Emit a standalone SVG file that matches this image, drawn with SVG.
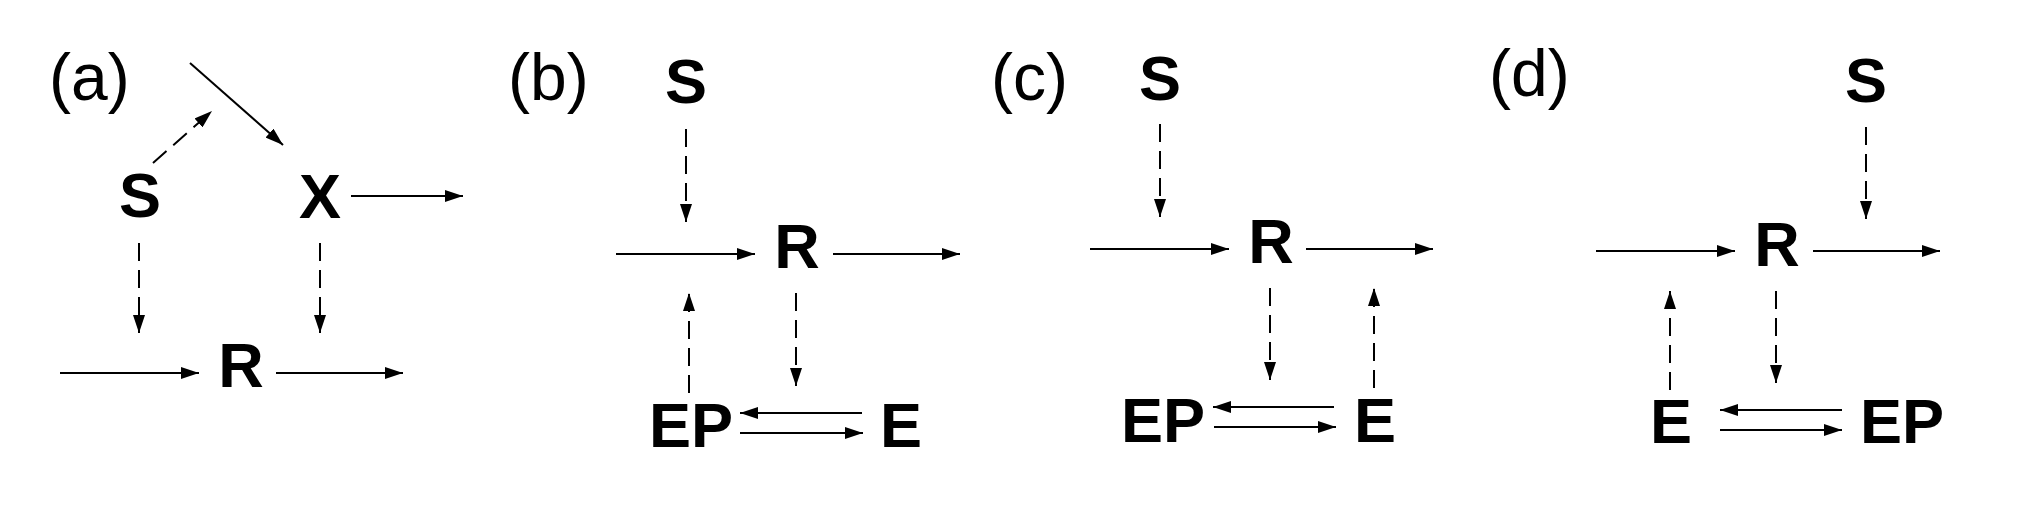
<svg xmlns="http://www.w3.org/2000/svg" width="2026" height="514" viewBox="0 0 2026 514">
<defs>
<marker id="ah" markerUnits="userSpaceOnUse" markerWidth="18" markerHeight="12" refX="18" refY="6" orient="auto">
<path d="M0,0 L18,6 L0,12 z" fill="#000"/>
</marker>
<style>
.lbl{font-family:"Liberation Sans",Arial,sans-serif;font-size:66px;fill:#000}
.nd{font-family:"Liberation Sans",Arial,sans-serif;font-size:63px;font-weight:bold;fill:#000;text-anchor:middle}
.c line{stroke:#000;stroke-width:2;fill:none;marker-end:url(#ah)}
.c line.d{stroke-dasharray:18 9}
</style>
</defs>
<rect width="2026" height="514" fill="#fff"/>
<text class="lbl" x="49" y="100">(a)</text>
<text class="lbl" x="508" y="100">(b)</text>
<text class="lbl" x="991" y="100">(c)</text>
<text class="lbl" x="1489" y="96">(d)</text>
<g id="a-S"><text class="nd" x="140" y="217">S</text></g>
<g id="a-X"><text class="nd" x="320" y="218">X</text></g>
<g id="a-R"><text class="nd" x="241" y="387">R</text></g>
<g id="b-S"><text class="nd" x="686" y="103">S</text></g>
<g id="b-R"><text class="nd" x="797" y="268">R</text></g>
<g id="b-EP"><text class="nd" x="691" y="447">EP</text></g>
<g id="b-E"><text class="nd" x="901" y="447">E</text></g>
<g id="c-S"><text class="nd" x="1160" y="100">S</text></g>
<g id="c-R"><text class="nd" x="1271" y="263">R</text></g>
<g id="c-EP"><text class="nd" x="1163" y="442">EP</text></g>
<g id="c-E"><text class="nd" x="1375" y="442">E</text></g>
<g id="d-S"><text class="nd" x="1866" y="102">S</text></g>
<g id="d-R"><text class="nd" x="1777" y="266">R</text></g>
<g id="d-E"><text class="nd" x="1671" y="443">E</text></g>
<g id="d-EP"><text class="nd" x="1902" y="443">EP</text></g>
<g id="connectors" class="c">
<line x1="190" y1="63" x2="283" y2="145"/>
<line class="d" x1="153" y1="163" x2="212" y2="111"/>
<line x1="351" y1="196" x2="463" y2="196"/>
<line class="d" x1="139" y1="243" x2="139" y2="333"/>
<line class="d" x1="320" y1="243" x2="320" y2="333"/>
<line x1="60" y1="373" x2="199" y2="373"/>
<line x1="276" y1="373" x2="403" y2="373"/>
<line class="d" x1="686" y1="129" x2="686" y2="222"/>
<line x1="616" y1="254" x2="755" y2="254"/>
<line x1="833" y1="254" x2="960" y2="254"/>
<line class="d" x1="689" y1="393" x2="689" y2="293"/>
<line class="d" x1="796" y1="293" x2="796" y2="386"/>
<line x1="862" y1="413" x2="740" y2="413"/>
<line x1="740" y1="433" x2="863" y2="433"/>
<line class="d" x1="1160" y1="124" x2="1160" y2="217"/>
<line x1="1090" y1="249" x2="1229" y2="249"/>
<line x1="1306" y1="249" x2="1433" y2="249"/>
<line class="d" x1="1270" y1="288" x2="1270" y2="380"/>
<line class="d" x1="1374" y1="388" x2="1374" y2="288"/>
<line x1="1334" y1="407" x2="1213" y2="407"/>
<line x1="1214" y1="427" x2="1336" y2="427"/>
<line class="d" x1="1866" y1="127" x2="1866" y2="219"/>
<line x1="1596" y1="251" x2="1735" y2="251"/>
<line x1="1813" y1="251" x2="1940" y2="251"/>
<line class="d" x1="1776" y1="291" x2="1776" y2="383"/>
<line class="d" x1="1670" y1="390" x2="1670" y2="291"/>
<line x1="1842" y1="410" x2="1720" y2="410"/>
<line x1="1720" y1="430" x2="1842" y2="430"/>
</g>
</svg>
